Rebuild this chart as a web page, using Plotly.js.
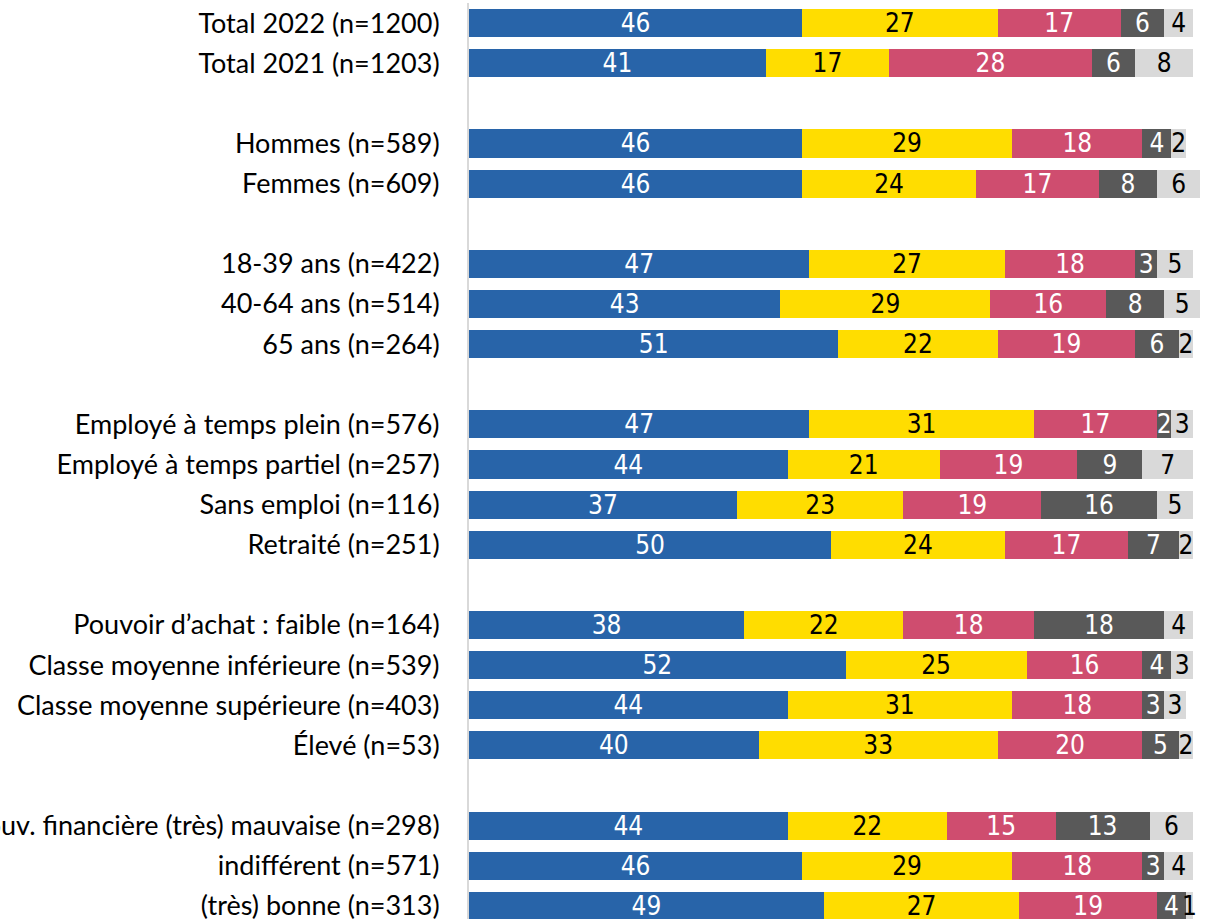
<!DOCTYPE html>
<html>
<head>
<meta charset="utf-8">
<script src="https://cdn.plot.ly/plotly-3.0.1.min.js"></script>
<style>
html,body{margin:0;padding:0;overflow:hidden;background:#fff;}
#chart{width:1209px;height:926px;}
</style>
</head>
<body>
<div id="chart"></div>
<script>
const categories = [
  "Total 2022 (n=1200)", "Total 2021 (n=1203)", " ",
  "Hommes (n=589)", "Femmes (n=609)", "  ",
  "18-39 ans (n=422)", "40-64 ans (n=514)", "65 ans (n=264)", "   ",
  "Employé à temps plein (n=576)", "Employé à temps partiel (n=257)", "Sans emploi (n=116)", "Retraité (n=251)", "    ",
  "Pouvoir d’achat : faible (n=164)", "Classe moyenne inférieure (n=539)", "Classe moyenne supérieure (n=403)", "Élevé (n=53)", "     ",
  "Pouv. financière (très) mauvaise (n=298)", "indifférent (n=571)", "(très) bonne (n=313)"
];
const series1 = [46, 41, null, 46, 46, null, 47, 43, 51, null, 47, 44, 37, 50, null, 38, 52, 44, 40, null, 44, 46, 49];
const series2 = [27, 17, null, 29, 24, null, 27, 29, 22, null, 31, 21, 23, 24, null, 22, 25, 31, 33, null, 22, 29, 27];
const series3 = [17, 28, null, 18, 17, null, 18, 16, 19, null, 17, 19, 19, 17, null, 18, 16, 18, 20, null, 15, 18, 19];
const series4 = [6, 6, null, 4, 8, null, 3, 8, 6, null, 2, 9, 16, 7, null, 18, 4, 3, 5, null, 13, 3, 4];
const series5 = [4, 8, null, 2, 6, null, 5, 5, 2, null, 3, 7, 5, 2, null, 4, 3, 3, 2, null, 6, 4, 1];

const seriesList = [series1, series2, series3, series4, series5];
const colors = ["#2864a9", "#ffdd00", "#cf4d6f", "#595959", "#d9d9d9"];
const textColors = ["#ffffff", "#000000", "#ffffff", "#ffffff", "#000000"];

const traces = seriesList.map((vals, i) => ({
  type: "bar",
  orientation: "h",
  y: categories,
  x: vals,
  text: vals.map(v => v == null ? "" : String(v)),
  textposition: "inside",
  insidetextanchor: "middle",
  textangle: 0,
  constraintext: "none",
  textfont: {family: "'Liberation Sans Narrow', 'DejaVu Sans Condensed', sans-serif", size: 26, color: textColors[i]},
  marker: {color: colors[i], line: {width: 0}},
  hoverinfo: "none",
  showlegend: false
}));

const layout = {
  width: 1209,
  height: 926,
  margin: {l: 469, r: 5, t: 3, b: 0},
  barmode: "stack",
  bargap: 0.3,
  paper_bgcolor: "#ffffff",
  plot_bgcolor: "#ffffff",
  uniformtext: {minsize: 26, mode: "show"},
  xaxis: {range: [0, 101.5], visible: false, fixedrange: true},
  yaxis: {
    type: "category",
    autorange: "reversed",
    showline: true,
    linecolor: "#d9d9d9",
    linewidth: 2,
    showgrid: false,
    zeroline: false,
    ticks: "",
    ticklabelstandoff: 22,
    tickfont: {family: "Lato, 'Open Sans', sans-serif", size: 27, color: "#000000"},
    fixedrange: true
  },
  font: {family: "Lato, sans-serif"}
};

Plotly.newPlot("chart", traces, layout, {displayModeBar: false, staticPlot: true});
</script>
</body>
</html>
